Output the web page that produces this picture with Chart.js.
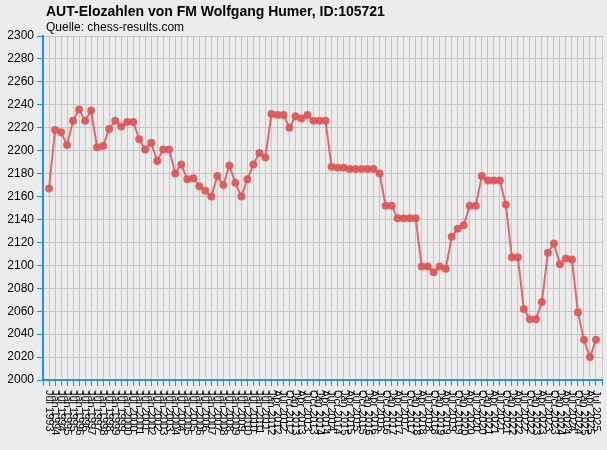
<!DOCTYPE html>
<html lang="de">
<head>
    <meta charset="UTF-8">
    <title>AUT-Elozahlen</title>
    <script src="https://cdn.jsdelivr.net/npm/chart.js"></script>
    <style>
        html, body { margin: 0; padding: 0; background: #ececec; }
        .chart-box { width: 607px; height: 450px; position: relative; }
    </style>
</head>
<body>
    <div class="chart-box">
        <canvas id="eloChart"></canvas>
    </div>

    <script>
        const titleText = 'AUT-Elozahlen von FM Wolfgang Humer, ID:105721';
        const sourceText = 'Quelle: chess-results.com';

        // rating lists: half-yearly until Jan 2012, quarterly from Apr 2012
        const periods = [
            'Jul 1993', 'Jan 1994', 'Jul 1994', 'Jan 1995', 'Jul 1995', 'Jan 1996', 'Jul 1996', 'Jan 1997',
            'Jul 1997', 'Jan 1998', 'Jul 1998', 'Jan 1999', 'Jul 1999', 'Jan 2000', 'Jul 2000', 'Jan 2001',
            'Jul 2001', 'Jan 2002', 'Jul 2002', 'Jan 2003', 'Jul 2003', 'Jan 2004', 'Jul 2004', 'Jan 2005',
            'Jul 2005', 'Jan 2006', 'Jul 2006', 'Jan 2007', 'Jul 2007', 'Jan 2008', 'Jul 2008', 'Jan 2009',
            'Jul 2009', 'Jan 2010', 'Jul 2010', 'Jan 2011', 'Jul 2011', 'Jan 2012',
            'Apr 2012', 'Jul 2012', 'Oct 2012', 'Jan 2013', 'Apr 2013', 'Jul 2013', 'Oct 2013',
            'Jan 2014', 'Apr 2014', 'Jul 2014', 'Oct 2014', 'Jan 2015', 'Apr 2015', 'Jul 2015', 'Oct 2015',
            'Jan 2016', 'Apr 2016', 'Jul 2016', 'Oct 2016', 'Jan 2017', 'Apr 2017', 'Jul 2017', 'Oct 2017',
            'Jan 2018', 'Apr 2018', 'Jul 2018', 'Oct 2018', 'Jan 2019', 'Apr 2019', 'Jul 2019', 'Oct 2019',
            'Jan 2020', 'Apr 2020', 'Jul 2020', 'Oct 2020', 'Jan 2021', 'Apr 2021', 'Jul 2021', 'Oct 2021',
            'Jan 2022', 'Apr 2022', 'Jul 2022', 'Oct 2022', 'Jan 2023', 'Apr 2023', 'Jul 2023', 'Oct 2023',
            'Jan 2024', 'Apr 2024', 'Jul 2024', 'Oct 2024', 'Jan 2025', 'Apr 2025', 'Jul 2025'
        ];

        const ratings = [
            2167, 2218, 2216, 2205, 2226, 2236, 2226, 2235, 2203, 2204,
            2219, 2226, 2221, 2225, 2225, 2210, 2201, 2207, 2191, 2201,
            2201, 2180, 2188, 2175, 2176, 2169, 2165, 2160, 2178, 2170,
            2187, 2172, 2160, 2175, 2188, 2198, 2194, 2232, 2231, 2231,
            2220, 2230, 2228, 2231, 2226, 2226, 2226, 2186, 2185, 2185,
            2184, 2184, 2184, 2184, 2184, 2180, 2152, 2152, 2141, 2141,
            2141, 2141, 2099, 2099, 2094, 2099, 2097, 2125, 2132, 2135,
            2152, 2152, 2178, 2174, 2174, 2174, 2153, 2107, 2107, 2062,
            2053, 2053, 2068, 2111, 2119, 2101, 2106, 2105, 2059, 2035,
            2020, 2035
        ];

        const yMin = 2000;
        const yMax = 2300;
        const yStep = 20;

        const blue = '#1e90ff';
        const gridGray = '#c6c6c6';
        const lineRed = 'rgba(222, 88, 88, 0.88)';

        // text on top and the vertical period labels
        const textPlugin = {
            id: 'textPlugin',
            afterDraw(chart) {
                const ctx = chart.ctx;
                const xs = chart.scales.x;
                ctx.save();
                ctx.fillStyle = '#000';
                ctx.textBaseline = 'alphabetic';
                ctx.textAlign = 'left';
                ctx.font = 'bold 14px "Liberation Sans", Arial, sans-serif';
                ctx.fillText(titleText, 46, 16);
                ctx.font = '12px "Liberation Sans", Arial, sans-serif';
                ctx.fillText(sourceText, 46, 31);

                ctx.font = '11px "Liberation Sans", Arial, sans-serif';
                ctx.textBaseline = 'middle';
                periods.forEach((p, i) => {
                    const px = xs.getPixelForValue(i);
                    ctx.save();
                    ctx.translate(px, xs.bottom + 4);
                    ctx.rotate(Math.PI / 2);
                    ctx.fillText(p, 0, 0);
                    ctx.restore();
                });
                ctx.restore();
            }
        };

        const ctx = document.getElementById('eloChart');

        new Chart(ctx, {
            type: 'line',
            data: {
                datasets: [{
                    label: 'Elo',
                    data: ratings.map((v, i) => ({ x: i, y: v })),
                    borderColor: lineRed,
                    backgroundColor: lineRed,
                    borderWidth: 2,
                    pointRadius: 3,
                    pointHoverRadius: 3,
                    tension: 0
                }]
            },
            options: {
                responsive: true,
                maintainAspectRatio: false,
                animation: false,
                layout: {
                    padding: { left: 0, right: 5, top: 36, bottom: 64 }
                },
                plugins: {
                    legend: { display: false },
                    tooltip: { enabled: false }
                },
                scales: {
                    x: {
                        type: 'linear',
                        min: -1,
                        max: periods.length,
                        afterBuildTicks(scale) {
                            const t = [];
                            for (let v = -1; v <= periods.length; v++) t.push({ value: v });
                            scale.ticks = t;
                        },
                        ticks: { display: false },
                        grid: { color: gridGray, tickColor: blue, tickLength: 6, lineWidth: 1 },
                        border: { color: blue, width: 2 }
                    },
                    y: {
                        min: yMin,
                        max: yMax,
                        afterFit(scale) { scale.width = 43; },
                        ticks: {
                            stepSize: yStep,
                            padding: 3,
                            color: '#000',
                            font: { family: '"Liberation Sans", Arial, sans-serif', size: 12 },
                            callback: v => String(v)
                        },
                        grid: { color: gridGray, tickColor: blue, tickLength: 6, lineWidth: 1 },
                        border: { color: blue, width: 2 }
                    }
                }
            },
            plugins: [textPlugin]
        });
    </script>
</body>
</html>
